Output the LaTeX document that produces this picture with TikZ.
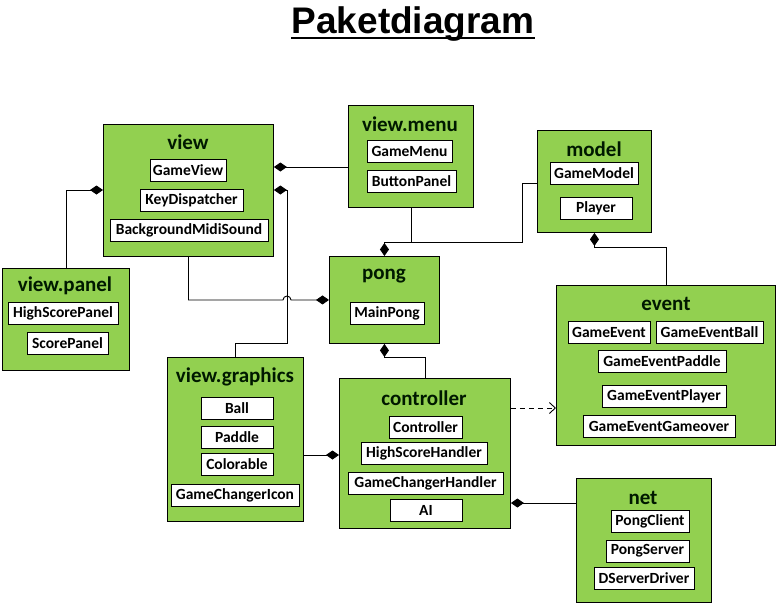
\documentclass[tikz,border=0pt]{standalone}
\usepackage{fontspec}
\setmainfont{Carlito}
\newfontfamily\titlefont{Liberation Sans}
\usetikzlibrary{arrows.meta}
\definecolor{pkggreen}{RGB}{146,208,80}
\tikzset{
  pkg/.style={draw=black, fill=pkggreen, line width=0.9pt, inner sep=0pt, anchor=north west},
  ptitle/.style={font=\bfseries\fontsize{21}{24}\selectfont, inner sep=0pt, text=black!90!green},
  item/.style={draw=black, fill=white, line width=0.8pt, inner sep=0pt, minimum height=22pt, font=\bfseries\fontsize{15.5}{17}\selectfont},
  comp/.style={draw=black, line width=0.9pt, -{Diamond[length=13pt,width=9pt]}},
  dep/.style={draw=black, line width=0.9pt, dashed, dash pattern=on 5pt off 4pt, -{Straight Barb[length=6pt,width=11pt]}}
}
\begin{document}
\begin{tikzpicture}[x=1pt,y=-1pt]
\useasboundingbox (0,0) rectangle (776,603);
% title
\node[font=\titlefont\bfseries\fontsize{37}{42}\selectfont, inner sep=0pt, anchor=base] (title) at (413,33) {Paketdiagram};
\draw[line width=2.4pt] ([yshift=-5pt]title.base west) -- ([yshift=-5pt]title.base east);

% packages
\node[pkg, minimum width=170pt, minimum height=132pt] (view) at (103,124) {};
\node[pkg, minimum width=127pt, minimum height=102pt] (panel) at (2,268) {};
\node[pkg, minimum width=125pt, minimum height=102pt] (menu) at (348,105) {};
\node[pkg, minimum width=114pt, minimum height=102pt] (model) at (537,130) {};
\node[pkg, minimum width=110pt, minimum height=87pt] (pong) at (329,256) {};
\node[pkg, minimum width=136pt, minimum height=164pt] (graphics) at (167,357) {};
\node[pkg, minimum width=171pt, minimum height=150pt] (controller) at (339,378) {};
\node[pkg, minimum width=219pt, minimum height=160pt] (event) at (556,285) {};
\node[pkg, minimum width=135pt, minimum height=124pt] (net) at (576,478) {};

% package titles
\node[ptitle] (tview) at (188,142) {view};
\node[ptitle] (tpanel) at (65,286) {view.panel};
\node[ptitle] (tmenu) at (410,124) {view.menu};
\node[ptitle] (tmodel) at (594,149) {model};
\node[ptitle] (tpong) at (384,276) {pong};
\node[ptitle] (tgraphics) at (235,377) {view.graphics};
\node[ptitle] (tcontroller) at (424,398) {controller};
\node[ptitle] (tevent) at (666,304) {event};
\node[ptitle] (tnet) at (643,498) {net};

% items
\node[item, minimum width=76pt] (i1) at (188,170) {GameView};
\node[item, minimum width=103pt] (i2) at (191.5,200) {KeyDispatcher};
\node[item, minimum width=158pt] (i3) at (189,230) {BackgroundMidiSound};
\node[item, minimum width=110pt] (i4) at (63,313.5) {HighScorePanel};
\node[item, minimum width=81pt] (i5) at (67.5,343) {ScorePanel};
\node[item, minimum width=85pt] (i6) at (409.5,151.5) {GameMenu};
\node[item, minimum width=89pt] (i7) at (411.5,181.5) {ButtonPanel};
\node[item, minimum width=88pt] (i8) at (594,173) {GameModel};
\node[item, minimum width=72pt] (i9) at (596,208) {Player};
\node[item, minimum width=74pt] (i10) at (387,313) {MainPong};
\node[item, minimum width=72pt] (i11) at (237,408) {Ball};
\node[item, minimum width=72pt] (i12) at (237,437.5) {Paddle};
\node[item, minimum width=72pt] (i13) at (237,464) {Colorable};
\node[item, minimum width=128pt] (i14) at (235,495) {GameChangerIcon};
\node[item, minimum width=73pt] (i15) at (425.5,427) {Controller};
\node[item, minimum width=126pt] (i16) at (424,453.5) {HighScoreHandler};
\node[item, minimum width=155pt] (i17) at (425.5,483.5) {GameChangerHandler};
\node[item, minimum width=72pt] (i18) at (426,510.5) {AI};
\node[item, minimum width=82pt] (i19) at (609,332) {GameEvent};
\node[item, minimum width=107pt] (i20) at (709.5,332) {GameEventBall};
\node[item, minimum width=128pt] (i21) at (662,361) {GameEventPaddle};
\node[item, minimum width=124pt] (i22) at (664,396) {GameEventPlayer};
\node[item, minimum width=152pt] (i23) at (659,426.5) {GameEventGameover};
\node[item, minimum width=78pt] (i24) at (650,521) {PongClient};
\node[item, minimum width=83pt] (i25) at (647.5,551) {PongServer};
\node[item, minimum width=100pt] (i26) at (644,578) {DServerDriver};

% helper coordinates
\coordinate (ya) at (0,167);
\coordinate (b1) at (287,343);
\coordinate (b2) at (287,190);
\coordinate (j1) at (283,300);
\coordinate (m1) at (0,183);
\coordinate (m2) at (522,242);
\coordinate (f1) at (0,357);
\coordinate (g1) at (0,455);
\coordinate (h1) at (0,503);
\coordinate (d1) at (0,408);
\coordinate (e1) at (0,247);

% connectors
\draw[comp] (menu.west |- ya) -- (view.east |- ya);
\draw[comp] (graphics.north) |- (b1) -- (b2) -- (view.east |- b2);
\draw[comp] (panel.north) |- (view.west |- b2);
\draw[comp] (view.south) |- (j1) arc[start angle=180, end angle=0, radius=4pt] -- (pong.west);
\draw[comp] (model.west |- m1) -| (m2) -| (pong.north);
\draw[line width=0.9pt] (menu.south) -- (menu.south |- m2);
\draw[comp] (controller.north) |- (pong.south |- f1) -- (pong.south);
\draw[comp] (graphics.east |- g1) -- (controller.west |- g1);
\draw[comp] (net.west |- h1) -- (controller.east |- h1);
\draw[dep] (controller.east |- d1) -- (event.west |- d1);
\draw[comp] (event.north) |- (model.south |- e1) -- (model.south);
\end{tikzpicture}
\end{document}
